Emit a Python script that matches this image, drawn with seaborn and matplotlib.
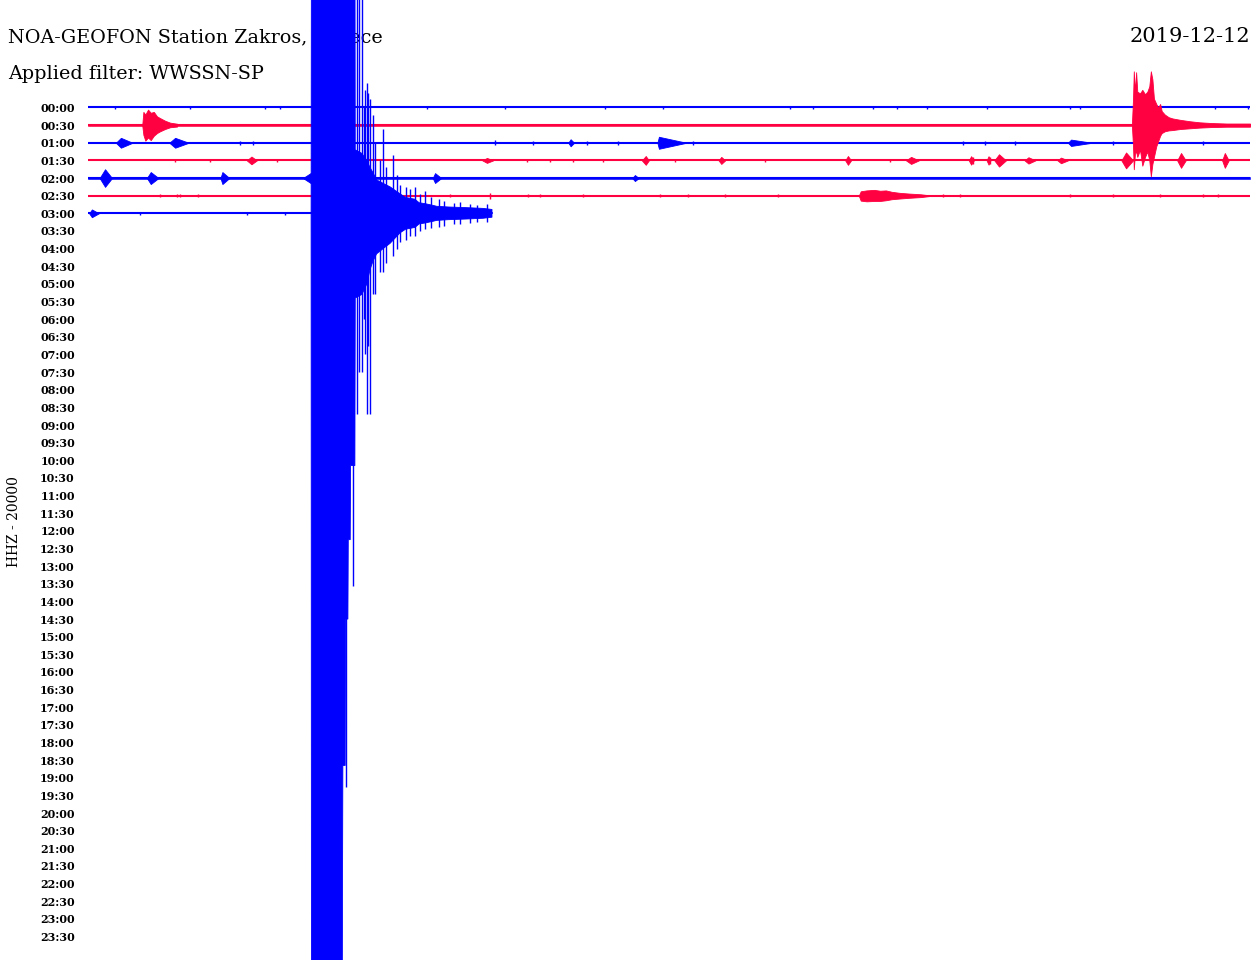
import matplotlib
matplotlib.use('Agg')
import matplotlib.pyplot as plt
import seaborn as sns
import pandas as pd

# helicorder lines, one every half hour
labels = ['%02d:%02d' % (h, m) for h in range(24) for m in (0, 30)]

# recorded lines: minutes of data in each line and the noise band (in line spacings)
trace_rows = [0, 1, 2, 3, 4, 5, 6]
trace_end = [30, 30, 30, 30, 30, 30, 10.43]
noise_amp = [0.0, 0.05, 0.0, 0.0, 0.05, 0.0, 0.0]

# single spikes: line, minute, half height
spike_row = [0] * 18 + [2] * 12 + [3] * 12 + [5] * 20 + [6] * 3
spike_min = [0.7, 2.63, 4.57, 4.96, 8.75, 10.77, 13.35, 14.85, 18.12, 18.72, 20.27, 20.89,
             21.66, 23.21, 25.35, 25.61, 29.10, 29.95,
             3.92, 4.26, 10.51, 11.49, 12.88, 13.68, 15.62, 22.59, 23.16, 23.93, 26.46, 28.79,
             2.25, 3.15, 4.88, 11.33, 11.93, 12.52, 13.30, 15.15, 17.48, 20.71, 22.85, 23.29,
             1.86, 2.30, 2.38, 2.84, 9.35, 10.38, 11.36, 11.67, 12.78, 14.77, 15.49, 16.45,
             17.81, 22.07, 22.51, 25.35, 26.46, 27.68, 28.79, 29.18,
             1.34, 4.11, 5.09]
spike_amp = [0.1] * 18 + \
            [0.1, 0.1, 0.14, 0.1, 0.1, 0.1, 0.1, 0.1, 0.1, 0.1, 0.1, 0.1] + \
            [0.1] * 10 + [0.2, 0.2] + \
            [0.1] * 5 + [0.17] + [0.1] * 14 + \
            [0.1, 0.1, 0.1]

# small spindles: line, onset, peak, end, half height
burst_row = [2, 2, 2, 2, 2,
             3, 3, 3, 3, 3, 3, 3, 3, 3, 3, 3, 3, 3, 3,
             4, 4, 4, 4, 4, 4,
             6]
burst_start = [0.72, 2.10, 12.40, 14.70, 25.30,
               4.10, 10.18, 14.30, 16.28, 19.55, 21.12, 22.74, 23.20, 23.40, 24.18, 25.03, 26.68, 28.12, 29.28,
               0.30, 1.52, 3.42, 5.55, 8.90, 14.05,
               0.03]
burst_peak = [0.85, 2.25, 12.46, 14.74, 25.38,
              4.22, 10.30, 14.40, 16.35, 19.62, 21.25, 22.80, 23.25, 23.52, 24.28, 25.12, 26.80, 28.22, 29.35,
              0.44, 1.62, 3.47, 5.76, 8.96, 14.12,
              0.10]
burst_end = [1.15, 2.60, 12.55, 15.45, 25.92,
             4.36, 10.46, 14.48, 16.45, 19.70, 21.45, 22.87, 23.30, 23.70, 24.46, 25.30, 26.98, 28.34, 29.45,
             0.62, 1.82, 3.65, 5.77, 9.12, 14.22,
             0.28]
burst_amp = [0.28, 0.28, 0.2, 0.34, 0.18,
             0.22, 0.14, 0.25, 0.2, 0.25, 0.2, 0.24, 0.24, 0.35, 0.18, 0.16, 0.45, 0.42, 0.42,
             0.5, 0.34, 0.34, 0.3, 0.28, 0.17,
             0.22]

# local event on the 00:30 line
ev1_min = [1.40, 1.43, 1.48, 1.55, 1.62, 1.70, 1.78, 1.86, 1.99, 2.12, 2.30]
ev1_up = [0, 0.75, 0.6, 0.88, 0.7, 0.75, 0.5, 0.4, 0.25, 0.14, 0.08]
ev1_down = [0, 0.55, 0.88, 0.7, 0.85, 0.6, 0.45, 0.35, 0.22, 0.12, 0.08]

# regional event at the end of the 00:30 line
ev2_min = [26.95, 26.98, 27.00, 27.03, 27.06, 27.09, 27.16, 27.22, 27.29, 27.35, 27.40, 27.44, 27.48,
           27.52, 27.58, 27.63, 27.68, 27.72, 27.80, 27.90, 28.00, 28.20, 28.45, 28.70, 29.00, 29.40, 30.0]
ev2_up = [0, 1.5, 3.05, 1.9, 3.0, 1.9, 1.8, 2.0, 1.75, 1.9, 2.2, 3.05, 2.6,
          1.5, 1.2, 1.0, 1.2, 0.8, 0.6, 0.45, 0.38, 0.3, 0.22, 0.16, 0.12, 0.09, 0.09]
ev2_down = [0, 1.2, 2.5, 1.6, 1.5, 1.8, 1.4, 2.3, 1.8, 1.5, 2.0, 2.9, 2.2,
            1.8, 1.2, 0.9, 0.6, 0.45, 0.35, 0.3, 0.28, 0.22, 0.18, 0.14, 0.11, 0.09, 0.09]

# event on the 02:30 line
ev3_min = [19.90, 19.95, 20.10, 20.30, 20.45, 20.60, 20.75, 20.96, 21.20, 21.50, 21.80]
ev3_up = [0, 0.25, 0.3, 0.33, 0.28, 0.3, 0.22, 0.16, 0.12, 0.08, 0]
ev3_down = [0, 0.28, 0.32, 0.3, 0.3, 0.26, 0.2, 0.16, 0.12, 0.08, 0]

# main shock on the 03:00 line (clipped by the page)
shock_min = [5.76, 5.77, 6.56, 6.57, 6.58, 6.64, 6.65, 6.71, 6.72, 6.77, 6.78, 6.89, 6.90,
             7.07, 7.20, 7.28, 7.36, 7.45, 7.62, 7.80, 7.93, 8.06, 8.20, 8.44,
             8.55, 8.70, 8.91, 9.00, 9.30, 9.80, 10.20, 10.43]
shock_up = [0, 20, 20, 20, 20, 20, 20, 20, 20, 20, 20, 20, 3.6,
            3.4, 3.0, 2.6, 2.3, 1.9, 1.7, 1.5, 1.3, 1.1, 0.9, 0.8,
            0.6, 0.55, 0.45, 0.4, 0.36, 0.32, 0.28, 0.22]
shock_down = [0, 50, 50, 38.8, 31.3, 31.3, 23.0, 23.0, 18.5, 18.5, 14.3, 14.3, 4.8,
              4.6, 4.0, 3.2, 2.7, 2.3, 2.0, 1.7, 1.4, 1.1, 0.9, 0.8,
              0.6, 0.55, 0.45, 0.4, 0.36, 0.32, 0.28, 0.22]
shock_spike_min = [6.66, 6.83, 6.94, 7.00, 7.07, 7.12, 7.16, 7.20, 7.24, 7.28, 7.36, 7.41, 7.54,
                   7.62, 7.70, 7.87, 7.98, 8.06, 8.20, 8.31, 8.44, 8.58, 8.70, 8.85, 9.05,
                   9.20, 9.45, 9.60, 9.85, 10.05, 10.30]
shock_spike_up = [0, 0, 20, 20, 20, 6.0, 7.0, 7.4, 6.8, 6.5, 5.6, 4.0, 3.0,
                  4.8, 2.6, 3.3, 2.2, 1.6, 1.5, 1.4, 1.5, 1.1, 1.25, 0.9, 0.8,
                  0.7, 0.6, 0.65, 0.55, 0.5, 0.55]
shock_spike_down = [32.5, 21.1, 11.4, 9.0, 9.0, 6.0, 8.0, 11.4, 7.5, 11.4, 4.6, 4.6, 3.3,
                    3.3, 2.8, 2.4, 2.0, 1.6, 1.5, 1.3, 1.3, 1.0, 0.9, 0.85, 0.8,
                    0.7, 0.6, 0.6, 0.55, 0.5, 0.5]

blue = '#0000ff'
red = '#ff0040'
colors = [blue if r % 2 == 0 else red for r in trace_rows]

sns.set_style('white')
plt.rcParams['font.family'] = ['DejaVu Serif']
plt.rcParams['text.color'] = 'black'
plt.rcParams['ytick.color'] = 'black'

fig = plt.figure(figsize=(12.6, 9.6), dpi=100)
ax = fig.add_axes([88 / 1260, 0, 1162 / 1260, 1])

# baselines of the recorded lines
lines = pd.DataFrame({
    'row': [r for r in trace_rows for _ in (0, 1)],
    'minute': [v for e in trace_end for v in (0, e)],
})
sns.lineplot(data=lines, x='minute', y='row', hue='row', units='row', estimator=None,
             palette=dict(zip(trace_rows, colors)), legend=False, linewidth=1.5, ax=ax, zorder=2)

for r, e, n in zip(trace_rows, trace_end, noise_amp):
    if n > 0:
        ax.fill_between([0, e], [r - n, r - n], [r + n, r + n], color=colors[r], lw=0.4, zorder=2)

for r, m, a in zip(spike_row, spike_min, spike_amp):
    ax.vlines(m, r - a, r + a, color=colors[r], lw=1.0, zorder=3)

for r, s, p, e, a in zip(burst_row, burst_start, burst_peak, burst_end, burst_amp):
    ax.fill_between([s, p, e], [r, r - a, r], [r, r + a, r], color=colors[r], lw=0.6, zorder=3)

for r, mins, up, down in [(1, ev1_min, ev1_up, ev1_down), (1, ev2_min, ev2_up, ev2_down),
                          (5, ev3_min, ev3_up, ev3_down), (6, shock_min, shock_up, shock_down)]:
    ax.fill_between(mins, [r - u for u in up], [r + d for d in down],
                    color=colors[r], lw=0.6, zorder=4 + (r == 6))

ax.vlines(shock_spike_min, [6 - u for u in shock_spike_up], [6 + d for d in shock_spike_down],
          color=blue, lw=1.0, zorder=5)

ax.set_xlim(0, 30)
ax.set_ylim(48.33, -6.094)
ax.set_xticks([])
ax.set_yticks(range(len(labels)))
ax.set_yticklabels(labels, fontsize=8, fontweight='bold')
ax.tick_params(axis='y', length=0, pad=9.5)
ax.set_xlabel('')
ax.set_ylabel('')
for s in ax.spines.values():
    s.set_visible(False)
ax.patch.set_visible(False)

ax.text(8 / 1260, 1 - 37 / 960, 'NOA-GEOFON Station Zakros, Greece', transform=fig.transFigure,
        ha='left', va='center', fontsize=13.8, zorder=1)
ax.text(8 / 1260, 1 - 74 / 960, 'Applied filter: WWSSN-SP', transform=fig.transFigure,
        ha='left', va='center', fontsize=13.8, zorder=1)
ax.text(1250 / 1260, 1 - 37 / 960, '2019-12-12', transform=fig.transFigure,
        ha='right', va='center', fontsize=15, zorder=1)
fig.text(14 / 1260, 1 - 522 / 960, 'HHZ - 20000', rotation=90, ha='center', va='center', fontsize=10)

fig.savefig('out.png', dpi=100, facecolor='white')
